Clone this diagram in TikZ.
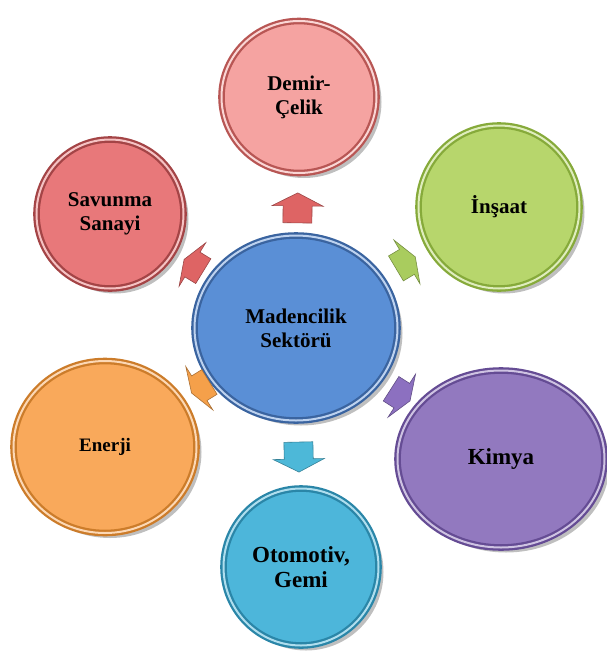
\documentclass[tikz,border=0pt]{standalone}
\usepackage{fontspec}
\setmainfont{Liberation Serif}
\usetikzlibrary{shapes.geometric,calc,shadows}
\definecolor{HubBlue}{HTML}{5A8FD6}
\definecolor{HubRim}{HTML}{3A64A0}
\definecolor{DemirPink}{HTML}{F5A3A1}
\definecolor{DemirRim}{HTML}{B85654}
\definecolor{SavRed}{HTML}{E8787A}
\definecolor{SavRim}{HTML}{A44446}
\definecolor{InsGreen}{HTML}{B7D66C}
\definecolor{InsRim}{HTML}{86AA3A}
\definecolor{KimPurple}{HTML}{9279BF}
\definecolor{KimRim}{HTML}{654C94}
\definecolor{EnOrange}{HTML}{F9A95B}
\definecolor{EnRim}{HTML}{CC7C2A}
\definecolor{OtoCyan}{HTML}{4DB6DA}
\definecolor{OtoRim}{HTML}{2A86A8}
\definecolor{ArRed}{HTML}{DE6464}
\definecolor{ArGreen}{HTML}{A9CC5E}
\definecolor{ArPurple}{HTML}{8C70C0}
\definecolor{ArOrange}{HTML}{F5A04A}
\definecolor{ArCyan}{HTML}{4DB8D8}
\tikzset{
  % Base disc
  CB/.style={ellipse,draw,line width=2.3pt,double distance=2pt,
             inner sep=0pt,align=center,text=black,
             font=\bfseries\fontsize{21}{24}\selectfont,
             drop shadow={opacity=.5,shadow xshift=5pt,shadow yshift=-5pt}},
  % Colour variants
  cH/.style={CB,fill=HubBlue,  draw=HubRim,  double=HubBlue!40!white},
  cD/.style={CB,fill=DemirPink,draw=DemirRim,double=DemirPink!45!white},
  cS/.style={CB,fill=SavRed,   draw=SavRim,  double=SavRed!45!white},
  cI/.style={CB,fill=InsGreen, draw=InsRim,  double=InsGreen!45!white},
  cK/.style={CB,fill=KimPurple,draw=KimRim,  double=KimPurple!45!white},
  cE/.style={CB,fill=EnOrange, draw=EnRim,   double=EnOrange!45!white},
  cO/.style={CB,fill=OtoCyan,  draw=OtoRim,  double=OtoCyan!45!white},
  % Block arrow
  pics/BA/.style={code={
    \path[pic actions] (-15,-14.5) -- (2,-14.5) -- (2,-25.5) -- (15,0)
      -- (2,25.5) -- (2,14.5) -- (-15,14.5) -- cycle;}}
}
% arrow from the hub towards a disc
\newcommand\outarr[4]{%
  \path let \p1=($(#1.center)-(hub.center)$), \n1={atan2(\y1,\x1)} in
    ($(hub.center)!#2!(#1.center)$)
    pic[rotate=\n1,xscale=#4,fill=#3,draw=#3!70!black,line width=.6pt] {BA};}

\begin{document}
\begin{tikzpicture}[x=1pt,y=-1pt]
  \useasboundingbox (0,0) rectangle (607,662);

  \node[cH,minimum width=203,minimum height=185] (hub) at (296,328) {Madencilik\\Sektörü};
  \node[cD,minimum width=155,minimum height=152] (demir) at (299,97)  {Demir-\\Çelik};
  \node[cI,minimum width=161,minimum height=163] (ins)   at (499,207) {İnşaat};
  \node[cS,minimum width=147,minimum height=149] (sav)   at (110,214) {Savunma\\Sanayi};
  \node[cE,minimum width=183,minimum height=172,font=\bfseries\fontsize{19}{22}\selectfont] (ener) at (105,447) {Enerji};
  \node[cK,minimum width=207,minimum height=177,font=\bfseries\fontsize{23}{26}\selectfont] (kim)  at (501,459) {Kimya};
  \node[cO,minimum width=155,minimum height=157,font=\bfseries\fontsize{23}{25}\selectfont] (oto)  at (301,567) {Otomotiv,\\Gemi};

  \outarr{demir}{.52}{ArRed}{1}
  \outarr{oto}{.54}{ArCyan}{1}
  \outarr{ins}{.54}{ArGreen}{.75}
  \outarr{kim}{.51}{ArPurple}{.75}
  \outarr{ener}{.50}{ArOrange}{.7}
  \outarr{sav}{.55}{ArRed}{.75}
\end{tikzpicture}
\end{document}
